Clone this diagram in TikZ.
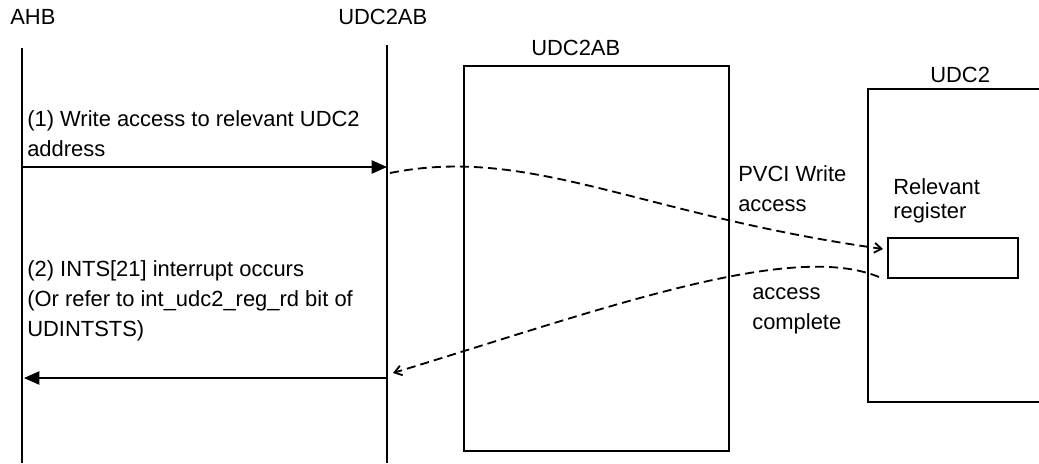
\documentclass[tikz,border=0pt]{standalone}
\usepackage{fontspec}
\setmainfont{Liberation Sans}
\usetikzlibrary{arrows.meta, positioning}
\tikzset{
    lifeline/.style={line width=1.1pt},
    block/.style={rectangle, draw, line width=1.4pt, fill=white, inner sep=0pt},
    label/.style={anchor=base west, inner sep=0pt, font=\fontsize{15.6}{21.3}\selectfont},
    note/.style={anchor=north west, inner sep=0pt, align=left, font=\fontsize{15.6}{21.3}\selectfont},
    call/.style={-{Triangle[length=11pt, width=9.5pt]}, line width=1.1pt},
    signal/.style={-{Straight Barb[length=5pt, width=7pt]}, line width=1.3pt, dash pattern=on 6.4pt off 3.6pt}
}
\begin{document}
\begin{tikzpicture}[x=0.025cm, y=-0.025cm]
    \clip[use as bounding box] (0,0) rectangle (1039,463);

    \node (ahbname) [label] at (10,24) {AHB};
    \node (abname) [label] at (338,24) {UDC2AB};

    \coordinate (ahbtop) at (22,48);
    \coordinate (ahbbot) at (22,463);
    \coordinate (abtop) at (387,45);
    \coordinate (abbot) at (387,463);
    \draw [lifeline] (ahbtop) -- (ahbbot);
    \draw [lifeline] (abtop) -- (abbot);

    \node (bridge) [block, minimum width=6.625cm, minimum height=9.625cm] at (596.5,258.5) {};
    \node (bridgename) [label] at (531,55) {UDC2AB};
    \node (udc) [block, minimum width=5cm, minimum height=7.825cm] at (968,245.5) {};
    \node (udcname) [label] at (930,82) {UDC2};
    \node (reg) [block, minimum width=3.25cm, minimum height=1cm] at (953,258) {};

    \node (writenote) [note] at (27,110) {(1) Write access to relevant UDC2\\address};
    \node (intnote) [note] at (27,260) {(2) INTS[21] interrupt occurs\\(Or refer to int\_udc2\_reg\_rd bit of\\UDINTSTS)};
    \node (pvcinote) [note] at (738,165) {PVCI Write\\access};
    \node (donenote) [note] at (752,287) {access\\complete};
    \node (regnote) [note, font=\fontsize{15.6}{17.2}\selectfont] at (893,178) {Relevant\\register};

    \coordinate (ahbout) at (22,167);
    \coordinate (abin) at (387,167);
    \coordinate (about) at (387,378);
    \coordinate (ahbin) at (24,378);
    \draw [call] (ahbout) -- (abin);
    \draw [call] (about) -- (ahbin);

    \coordinate (wstart) at (390,173);
    \coordinate (wend) at (883,249);
    \coordinate (dstart) at (879,277);
    \coordinate (dend) at (393,373);
    \draw [signal] (wstart) .. controls (530,145) and (640,215) .. (wend);
    \draw [signal] (dstart) .. controls (790,240) and (600,310) .. (dend);
\end{tikzpicture}
\end{document}
